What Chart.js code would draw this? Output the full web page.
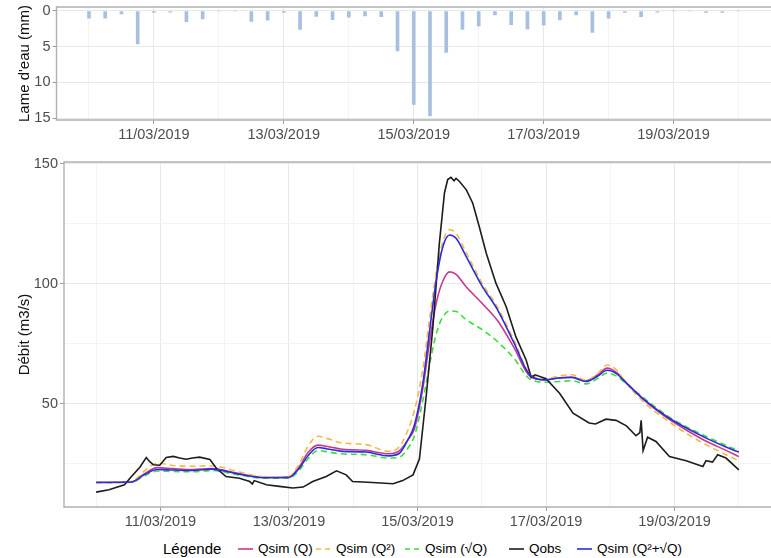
<!DOCTYPE html>
<html>
<head>
<meta charset="utf-8">
<script src="https://cdn.jsdelivr.net/npm/chart.js@4.4.1/dist/chart.umd.min.js"></script>
<style>
  body { margin: 0; background: #fff; width: 771px; height: 558px; position: relative; overflow: hidden;
         font-family: "Liberation Sans", Arial, sans-serif; }
  #rain { position: absolute; left: 0; top: 0; }
  #flow { position: absolute; left: 0; top: 145px; }
  #legend { position: absolute; left: 0; top: 539px; width: 771px; height: 19px; }
  #legend span, #legend svg { position: absolute; }
  #legend .title { font-size: 15px; color: #000; top: 1px; }
  #legend .item { font-size: 13.5px; color: #000; top: 2px; }
</style>
</head>
<body>
<canvas id="rain" width="771" height="145"></canvas>
<canvas id="flow" width="771" height="392"></canvas>
<div id="legend"></div>

<script>
// ---- data ----
const dayLabels = ['10/03/2019', '11/03/2019', '12/03/2019', '13/03/2019', '14/03/2019', '15/03/2019',
                   '16/03/2019', '17/03/2019', '18/03/2019', '19/03/2019', '20/03/2019'];
const majorDays = [1, 3, 5, 7, 9];

// rain every 6 h from 10/03 00:00 (mm)
const rainStep = 0.25;
const rain = [1.0, 1.0, 0.4, 4.6, 0.2, 0.15, 1.5, 1.1, 0, 0, 1.45, 1.3, 0.2, 2.6, 0.75, 1.2, 0.85, 0.7,
              0.8, 5.6, 13.1, 14.7, 5.8, 2.6, 2.1, 0.55, 1.9, 2.5, 2.0, 1.25, 0.55, 3.0, 1.0, 0.2, 0.8,
              0.15, 0, 0, 0.2, 0.2, 0];
const rainTicks = [0, 5, 10, 15];

// simulated flows, days since 10/03 00:00
const simDays = [0, 0.55, 0.75, 0.95, 1.2, 1.5, 1.8, 2.2, 2.6, 3.0, 3.15, 3.3, 3.45, 3.6, 3.8, 4.2, 4.55,
                 4.72, 4.85, 4.95, 5.08, 5.2, 5.3, 5.4, 5.5, 5.6, 5.75, 6.0, 6.25, 6.5, 6.75, 7.0, 7.2,
                 7.4, 7.62, 7.8, 7.95, 8.1, 8.25, 8.55, 8.9, 9.2, 9.5, 9.8, 10.0];
const qsimQ = [17.3, 17.5, 20.8, 23.4, 23.0, 22.6, 23.0, 21.0, 19.4, 19.5, 23.4, 29.8, 32.8, 32.2, 31.2,
               30.6, 29.2, 30.5, 35, 39.5, 56, 78, 93, 101.5, 105, 104, 99, 92, 84.5, 73.5, 61.5, 60,
               60.8, 61.2, 59.6, 62, 64.9, 63, 58.8, 51, 43.8, 38.8, 34.3, 30.6, 28.0];
const qsimQ2 = [17.2, 17.6, 22, 25.3, 24.3, 24.0, 24.2, 21.8, 19.6, 19.8, 24.5, 32.5, 36.5, 35.5, 33.8,
                33.0, 30.2, 32.2, 39, 47, 64, 88, 106, 118, 122.6, 121, 113.5, 100.5, 90, 76.5, 62.5,
                60.5, 61.6, 62.1, 59.8, 62.5, 66.2, 64, 58.5, 50, 42.8, 37.4, 32.8, 28.8, 26.2];
const qsimSqrt = [17.2, 17.3, 20, 22.0, 21.8, 21.7, 22.2, 20.5, 19.0, 19.0, 22, 27.2, 30.5, 30, 29.2,
                  28.8, 27.4, 27.8, 31.5, 36.5, 51, 68, 80, 86.5, 88.7, 88.5, 85.2, 81, 75.8, 69, 60.3,
                  59, 59.3, 59.6, 58.3, 60.5, 62.8, 61.5, 58.4, 51.8, 44.8, 40.2, 36.3, 32.7, 30.4];
const qsimMix = [17.2, 17.4, 20.5, 22.6, 22.4, 22.2, 22.8, 20.8, 19.2, 19.3, 22.8, 28.5, 31.8, 31.2, 30.3,
                 29.9, 28.3, 29.4, 35, 41, 58, 83, 103, 116, 120.4, 119, 111.8, 99.3, 89, 75.5, 62, 60,
                 60.8, 61, 59.3, 61.5, 64, 62.5, 58.6, 51.2, 44.3, 39.7, 35.6, 32, 29.9];

// observed flow
const obsDays = [0, 0.2, 0.44, 0.55, 0.68, 0.78, 0.83, 0.89, 0.99, 1.09, 1.2, 1.3, 1.4, 1.5, 1.61, 1.77,
                 1.87, 2.02, 2.23, 2.39, 2.43, 2.46, 2.65, 2.85, 3.06, 3.22, 3.37, 3.58, 3.74, 3.89, 3.99,
                 4.3, 4.62, 4.77, 4.93, 5.03, 5.14, 5.24, 5.34, 5.42, 5.47, 5.52, 5.57, 5.6, 5.65, 5.76,
                 5.86, 5.96, 6.07, 6.22, 6.38, 6.53, 6.69, 6.77, 6.83, 7.0, 7.21, 7.42, 7.67, 7.77, 7.93,
                 8.09, 8.25, 8.4, 8.46, 8.48, 8.51, 8.58, 8.71, 8.92, 9.18, 9.44, 9.49, 9.59, 9.67, 9.8, 10.0];
const qobs = [13.2, 14.2, 16.3, 19.7, 23.6, 27.6, 26, 24.6, 24.4, 27.6, 28.1, 27.4, 26.9, 27.4, 27.8, 26.8,
              23.2, 19.7, 19, 17.6, 16.6, 18, 16.3, 15.6, 14.9, 15.3, 17.6, 19.7, 22.1, 20.4, 17.6,
              17.2, 16.7, 18, 20.4, 27, 54.4, 82.2, 116.9, 138, 143.5, 144.4, 143, 144, 142.8, 139.2,
              133.6, 123.9, 112.8, 100.3, 90.5, 78, 68.3, 61, 62.1, 60.5, 54.4, 46.1, 42, 41.6, 43.6,
              43.1, 40.8, 36.7, 38, 43.1, 30.5, 36.1, 34.3, 28, 26.3, 23.9, 26.3, 25.7, 28.8, 27.4, 22.5];
const flowTicks = [50, 100, 150];

const seriesNames = ['Qsim (Q)', 'Qsim (Q²)', 'Qsim (√Q)', 'Qobs', 'Qsim (Q²+√Q)'];
const seriesColors = ['#c8388a', '#f4b942', '#3ddc3d', '#1c1c1c', '#2b2be0'];
const seriesDashed = [false, true, true, false, false];

// ---- shared styling ----
const tickFont = { family: 'Liberation Sans', size: 14.5 };
const titleFont = { family: 'Liberation Sans', size: 15 };
const gridMajor = '#e8e8e8';
const gridMinor = '#f4f4f4';
const tickMark = '#9a9a9a';

const panelBorder = {
  id: 'panelBorder',
  afterDatasetsDraw(chart) {
    const { ctx, chartArea: a } = chart;
    ctx.save();
    ctx.strokeStyle = '#b0b0b0';
    ctx.lineWidth = 1.4;
    ctx.beginPath();
    ctx.moveTo(a.right + 2, a.top);
    ctx.lineTo(a.left, a.top);
    ctx.lineTo(a.left, a.bottom);
    ctx.lineTo(a.right + 2, a.bottom);
    ctx.stroke();
    ctx.restore();
  }
};

function noPad(scale) {
  scale.paddingTop = 0; scale.paddingBottom = 0;
  scale.paddingLeft = 0; scale.paddingRight = 0;
}

// is the tick of this scriptable context one of the labelled ones?
const isMajor = (c, major) => !!(c.tick && major.includes(c.tick.value));

function dateAxis(height) {
  return {
    type: 'linear', min: -0.5, max: 10.5, offset: false,
    afterBuildTicks: s => { s.ticks = dayLabels.map((_, i) => ({ value: i })); },
    afterFit: s => { s.height = height; noPad(s); },
    border: { display: false },
    grid: {
      offset: false,
      color: c => isMajor(c, majorDays) ? gridMajor : gridMinor,
      tickColor: c => isMajor(c, majorDays) ? tickMark : 'rgba(0,0,0,0)',
      tickLength: 4
    },
    ticks: {
      autoSkip: false, maxRotation: 0, padding: 2, color: '#4d4d4d', font: tickFont,
      callback: v => majorDays.includes(v) ? dayLabels[v] : ''
    }
  };
}

function valueAxis(width, min, max, major, title, reverse) {
  const step = major[1] - major[0];
  return {
    type: 'linear', min: min, max: max, reverse: reverse,
    afterBuildTicks: s => {
      const t = [];
      for (let v = major[0] - step / 2; v <= max; v += step / 2) if (v >= min) t.push({ value: v });
      s.ticks = t;
    },
    afterFit: s => { s.width = width; noPad(s); },
    border: { display: false },
    grid: {
      color: c => isMajor(c, major) ? gridMajor : gridMinor,
      tickColor: c => isMajor(c, major) ? tickMark : 'rgba(0,0,0,0)',
      tickLength: 4
    },
    ticks: {
      padding: 2, color: '#4d4d4d', font: tickFont,
      callback: v => major.includes(v) ? String(v) : ''
    },
    title: { display: true, text: title, color: '#111', font: titleFont, padding: { top: 16, bottom: 0 } }
  };
}

// ---- rain chart (top) ----
new Chart(document.getElementById('rain'), {
  type: 'bar',
  data: {
    datasets: [{
      data: rain.map((v, i) => ({ x: i * rainStep, y: v })),
      backgroundColor: '#a9bfe0',
      barThickness: 3
    }]
  },
  options: {
    responsive: false, animation: false,
    layout: { padding: { top: 7, right: 0, bottom: 0, left: 0 } },
    plugins: { legend: { display: false }, tooltip: { enabled: false } },
    scales: {
      x: dateAxis(25),
      y: valueAxis(56.5, -0.56, 15.28, rainTicks, "Lame d'eau (mm)", true)
    }
  },
  plugins: [panelBorder]
});

// ---- flow chart (bottom) ----
const flowSeries = [qsimQ, qsimQ2, qsimSqrt, qobs, qsimMix];
const flowDays = [simDays, simDays, simDays, obsDays, simDays];
const drawOrder = [4, 3, 5, 2, 1];

new Chart(document.getElementById('flow'), {
  type: 'line',
  data: {
    datasets: flowSeries.map((vals, k) => ({
      label: seriesNames[k],
      data: vals.map((v, i) => ({ x: flowDays[k][i], y: v })),
      borderColor: seriesColors[k],
      borderWidth: 1.6,
      borderDash: seriesDashed[k] ? [6, 4] : [],
      pointRadius: 0,
      fill: false,
      order: drawOrder[k],
      cubicInterpolationMode: k === 3 ? 'default' : 'monotone',
      tension: k === 3 ? 0 : 0.4
    }))
  },
  options: {
    responsive: false, animation: false,
    layout: { padding: { top: 17, right: 0, bottom: 0, left: 0 } },
    plugins: { legend: { display: false }, tooltip: { enabled: false } },
    scales: {
      x: dateAxis(30),
      y: valueAxis(64, 7, 150.8, flowTicks, 'Débit (m3/s)', false)
    }
  },
  plugins: [panelBorder]
});

// ---- legend ----
const legend = document.getElementById('legend');
const legendKeyX = [238, 316, 405, 509, 577];
legend.innerHTML = '<span class="title" style="left:163px">Légende</span>' +
  seriesNames.map((name, k) =>
    `<svg style="left:${legendKeyX[k]}px;top:0" width="15" height="19">` +
    `<line x1="0" y1="10" x2="15" y2="10" stroke="${seriesColors[k]}" stroke-width="1.6"` +
    (seriesDashed[k] ? ' stroke-dasharray="5 4"' : '') + '/></svg>' +
    `<span class="item" style="left:${legendKeyX[k] + 20}px">${name}</span>`
  ).join('');
</script>
</body>
</html>
